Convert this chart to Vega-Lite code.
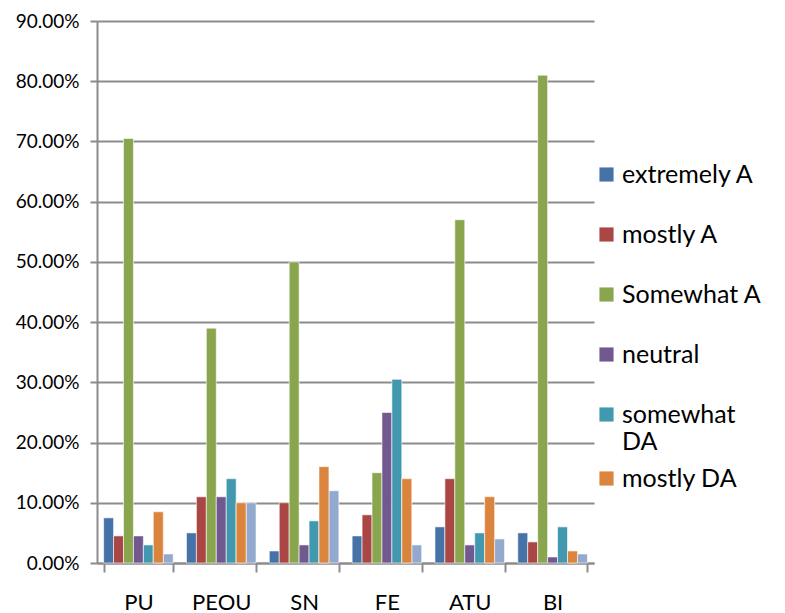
{
  "$schema": "https://vega.github.io/schema/vega-lite/v6.json",
  "width": 497,
  "height": 542,
  "autosize": {"type": "none"},
  "padding": {"left": 97, "top": 21, "right": 191, "bottom": 50},
  "background": "white",
  "data": {
    "values": [
      {"cat": "PU", "series": "extremely A", "v": 0.075},
      {"cat": "PU", "series": "mostly A", "v": 0.045},
      {"cat": "PU", "series": "Somewhat A", "v": 0.705},
      {"cat": "PU", "series": "neutral", "v": 0.045},
      {"cat": "PU", "series": "somewhat DA", "v": 0.03},
      {"cat": "PU", "series": "mostly DA", "v": 0.085},
      {"cat": "PU", "series": "extremely DA", "v": 0.015},
      {"cat": "PEOU", "series": "extremely A", "v": 0.05},
      {"cat": "PEOU", "series": "mostly A", "v": 0.11},
      {"cat": "PEOU", "series": "Somewhat A", "v": 0.39},
      {"cat": "PEOU", "series": "neutral", "v": 0.11},
      {"cat": "PEOU", "series": "somewhat DA", "v": 0.14},
      {"cat": "PEOU", "series": "mostly DA", "v": 0.10},
      {"cat": "PEOU", "series": "extremely DA", "v": 0.10},
      {"cat": "SN", "series": "extremely A", "v": 0.02},
      {"cat": "SN", "series": "mostly A", "v": 0.10},
      {"cat": "SN", "series": "Somewhat A", "v": 0.50},
      {"cat": "SN", "series": "neutral", "v": 0.03},
      {"cat": "SN", "series": "somewhat DA", "v": 0.07},
      {"cat": "SN", "series": "mostly DA", "v": 0.16},
      {"cat": "SN", "series": "extremely DA", "v": 0.12},
      {"cat": "FE", "series": "extremely A", "v": 0.045},
      {"cat": "FE", "series": "mostly A", "v": 0.08},
      {"cat": "FE", "series": "Somewhat A", "v": 0.15},
      {"cat": "FE", "series": "neutral", "v": 0.25},
      {"cat": "FE", "series": "somewhat DA", "v": 0.305},
      {"cat": "FE", "series": "mostly DA", "v": 0.14},
      {"cat": "FE", "series": "extremely DA", "v": 0.03},
      {"cat": "ATU", "series": "extremely A", "v": 0.06},
      {"cat": "ATU", "series": "mostly A", "v": 0.14},
      {"cat": "ATU", "series": "Somewhat A", "v": 0.57},
      {"cat": "ATU", "series": "neutral", "v": 0.03},
      {"cat": "ATU", "series": "somewhat DA", "v": 0.05},
      {"cat": "ATU", "series": "mostly DA", "v": 0.11},
      {"cat": "ATU", "series": "extremely DA", "v": 0.04},
      {"cat": "BI", "series": "extremely A", "v": 0.05},
      {"cat": "BI", "series": "mostly A", "v": 0.035},
      {"cat": "BI", "series": "Somewhat A", "v": 0.81},
      {"cat": "BI", "series": "neutral", "v": 0.01},
      {"cat": "BI", "series": "somewhat DA", "v": 0.06},
      {"cat": "BI", "series": "mostly DA", "v": 0.02},
      {"cat": "BI", "series": "extremely DA", "v": 0.015}
    ]
  },
  "encoding": {
    "x": {
      "field": "cat",
      "type": "nominal",
      "sort": ["PU", "PEOU", "SN", "FE", "ATU", "BI"],
      "scale": {"paddingInner": 0.16, "paddingOuter": 0.08},
      "axis": {
        "title": null,
        "labelAngle": 0,
        "labelFont": "Lato",
        "labelFontSize": 22,
        "labelColor": "black",
        "labelPadding": 20,
        "tickBand": "extent",
        "tickSize": 9,
        "tickColor": "#8c8c8c",
        "tickWidth": 2,
        "domainColor": "#8c8c8c",
        "domainWidth": 2,
        "grid": false
      }
    },
    "xOffset": {
      "field": "series",
      "sort": ["extremely A", "mostly A", "Somewhat A", "neutral", "somewhat DA", "mostly DA", "extremely DA"],
      "scale": {"paddingInner": 0, "paddingOuter": 0}
    },
    "y": {
      "field": "v",
      "type": "quantitative",
      "scale": {"domain": [0, 0.9], "nice": false},
      "axis": {
        "title": null,
        "format": ".2%",
        "values": [0, 0.1, 0.2, 0.3, 0.4, 0.5, 0.6, 0.7, 0.8, 0.9],
        "labelOverlap": false,
        "labelFont": "Lato",
        "labelFontSize": 19,
        "labelColor": "black",
        "labelPadding": 11,
        "tickSize": 7,
        "tickColor": "#8c8c8c",
        "tickWidth": 2,
        "domainColor": "#8c8c8c",
        "domainWidth": 2,
        "grid": true,
        "gridColor": "#8c8c8c",
        "gridWidth": 2
      }
    }
  },
  "layer": [
    {
      "mark": {"type": "bar", "stroke": "white", "strokeWidth": 0.6},
      "encoding": {
        "color": {
          "field": "series",
          "type": "nominal",
          "scale": {
            "domain": ["extremely A", "mostly A", "Somewhat A", "neutral", "somewhat DA", "mostly DA", "extremely DA"],
            "range": ["#4572A7", "#AA4643", "#89A54E", "#71588F", "#4198AF", "#DB843D", "#93A9CF"]
          },
          "legend": {
            "title": null,
            "orient": "none",
            "legendX": 497,
            "legendY": 141,
            "values": ["extremely A", "mostly A", "Somewhat A", "neutral", "somewhat DA"],
            "symbolType": "square",
            "symbolSize": 200,
            "symbolStrokeWidth": 0,
            "labelFont": "Lato",
            "labelFontSize": 25,
            "labelColor": "black",
            "labelOffset": 3,
            "rowPadding": 34,
            "labelLimit": 200,
            "labelExpr": "datum.label == 'somewhat DA' ? ['somewhat', 'DA'] : datum.label",
            "encode": {
              "labels": {
                "enter": {
                  "lineHeight": {"signal": "32"}
                },
                "update": {
                  "dy": {"signal": "datum.value == 'somewhat DA' ? 16 : 0"},
                  "lineHeight": {"signal": "32"}
                }
              }
            }
          }
        }
      }
    },
    {
      "transform": [{"filter": "datum.series == 'mostly DA'"}],
      "mark": {"type": "bar", "stroke": "white", "strokeWidth": 0.6},
      "encoding": {
        "fill": {
          "field": "series",
          "type": "nominal",
          "scale": {"domain": ["mostly DA"], "range": ["#DB843D"]},
          "legend": {
            "title": null,
            "orient": "none",
            "legendX": 497,
            "legendY": 445,
            "symbolType": "square",
            "symbolSize": 200,
            "symbolStrokeWidth": 0,
            "labelFont": "Lato",
            "labelFontSize": 25,
            "labelColor": "black",
            "labelOffset": 3,
            "labelLimit": 200
          }
        }
      }
    }
  ],
  "config": {
    "view": {"stroke": null}
  }
}
